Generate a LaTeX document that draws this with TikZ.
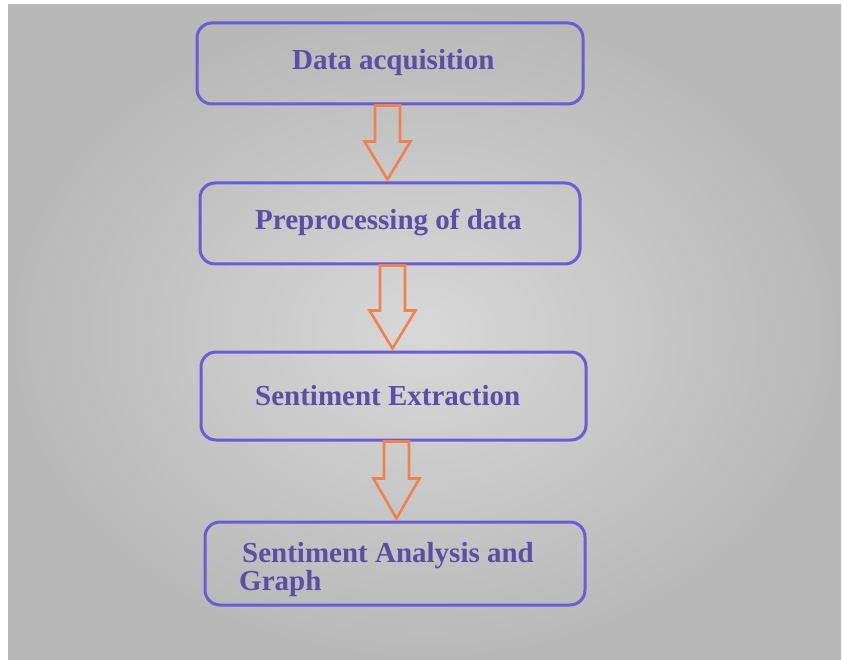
\documentclass[tikz,border=0pt]{standalone}
\usepackage{fontspec}
\setmainfont{Liberation Serif}
\usetikzlibrary{calc}
\definecolor{boxline}{RGB}{108,92,210}
\definecolor{txtcol}{RGB}{92,78,165}
\definecolor{arrcol}{RGB}{240,130,80}
\definecolor{bgin}{RGB}{216,216,216}
\definecolor{bgout}{RGB}{184,184,184}
\tikzset{
  stepbox/.style={draw=boxline, line width=3pt, rounded corners=15pt, minimum width=#1, inner sep=0pt},
  lbl/.style={text=txtcol, font=\fontsize{29}{33}\selectfont\bfseries, inner sep=0pt, anchor=base west},
  arrowline/.style={draw=arrcol, line width=2.6pt, line join=miter},
}
\newcommand{\blkarrow}[4]{%
  \draw[arrowline] let \p1=(#1.south), \p2=(#2.north) in
    (#3-12.5pt,\y1) -- (#3+12.5pt,\y1) -- (#3+12.5pt,\y2+#4) -- (#3+23pt,\y2+#4)
    -- (#3,\y2+2pt) -- (#3-23pt,\y2+#4) -- (#3-12.5pt,\y2+#4) -- cycle;}
\begin{document}
\begin{tikzpicture}[x=1pt,y=-1pt]
\useasboundingbox (0,0) rectangle (843,660);
\fill[white] (0,0) rectangle (843,660);
\shade[inner color=bgin, outer color=bgout] (8,5) rectangle (841,660);
% boxes
\node[stepbox=386pt, minimum height=81pt] (b1) at (390,63.5) {};
\node[stepbox=380pt, minimum height=81pt] (b2) at (390,223.5) {};
\node[stepbox=385pt, minimum height=88pt] (b3) at (393.5,396) {};
\node[stepbox=380pt, minimum height=83pt] (b4) at (395,563.5) {};
% labels
\node[lbl] (l1) at (292,70) {Data acquisition};
\node[lbl] (l2) at (255,230) {Preprocessing of data};
\node[lbl] (l3) at (255,405) {Sentiment Extraction};
\node[lbl] (l4a) at (242,562) {Sentiment Analysis and};
\node[lbl] (l4b) at (239,590) {Graph};
% arrows
\blkarrow{b1}{b2}{387.5pt}{40pt}
\blkarrow{b2}{b3}{392.5pt}{40pt}
\blkarrow{b3}{b4}{396.5pt}{42pt}
\end{tikzpicture}
\end{document}
